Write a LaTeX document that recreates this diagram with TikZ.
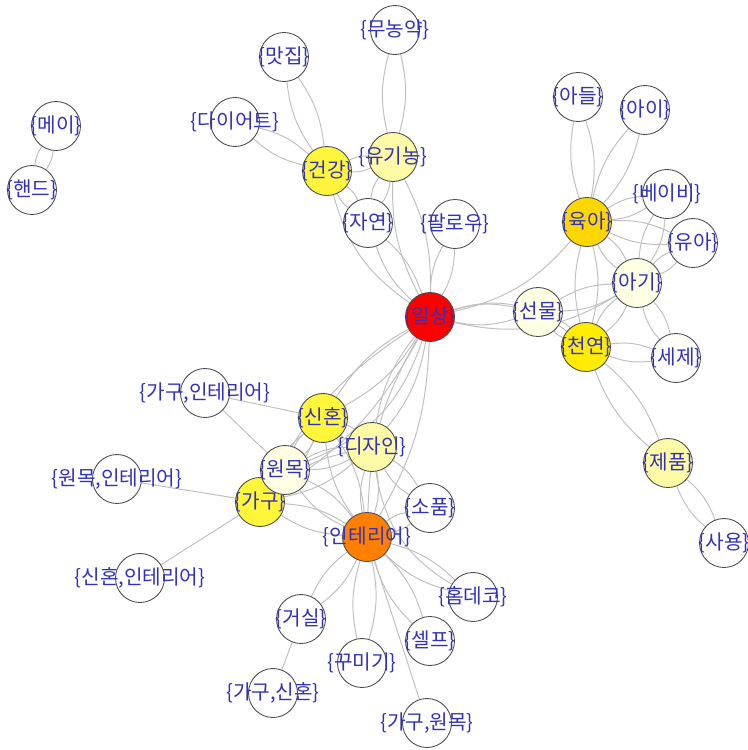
\documentclass[tikz,border=0pt]{standalone}
\usepackage{fontspec}
\newfontfamily\krfont{Noto Sans CJK KR}
\usepackage{xcolor}
\usepackage{tikz}
\usetikzlibrary{backgrounds}

\definecolor{lblblue}{RGB}{50,50,185}
\definecolor{cRed}{RGB}{255,0,0}
\definecolor{cOrange}{RGB}{255,128,0}
\definecolor{cGold}{RGB}{255,215,0}
\definecolor{cYelA}{RGB}{255,236,0}
\definecolor{cYelB}{RGB}{255,246,60}
\definecolor{cYelC}{RGB}{255,250,165}
\definecolor{cPale}{RGB}{255,255,228}

\tikzset{
  vtx/.style={circle,draw=black!70,line width=0.5pt,minimum size=0.98cm,inner sep=0pt,fill=white},
  lbl/.style={text=lblblue,font=\krfont\fontsize{11.5}{12}\selectfont},
  edge/.style={draw=black!25,line width=0.55pt},
}

\begin{document}
\begin{tikzpicture}[x=0.02cm,y=-0.02cm]
  \useasboundingbox (0,0) rectangle (747,750);
  % vertices
  \node[vtx,label={[lbl]center:\{메이\}}] (mei) at (56,126) {};
  \node[vtx,label={[lbl]center:\{핸드\}}] (haend) at (32,190) {};
  \node[vtx,label={[lbl]center:\{맛집\}}] (matjip) at (284,57) {};
  \node[vtx,label={[lbl]center:\{무농약\}}] (munong) at (395,30) {};
  \node[vtx,label={[lbl]center:\{다이어트\}}] (diet) at (235,122) {};
  \node[vtx,fill=cYelB,label={[lbl]center:\{건강\}}] (geongang) at (327,171) {};
  \node[vtx,fill=cYelC,label={[lbl]center:\{유기농\}}] (yugi) at (393,157) {};
  \node[vtx,label={[lbl]center:\{자연\}}] (jayeon) at (368,223) {};
  \node[vtx,label={[lbl]center:\{팔로우\}}] (follow) at (455,224) {};
  \node[vtx,label={[lbl]center:\{아들\}}] (adeul) at (578,97) {};
  \node[vtx,label={[lbl]center:\{아이\}}] (ai) at (645,110) {};
  \node[vtx,label={[lbl]center:\{베이비\}}] (baby) at (667,194) {};
  \node[vtx,fill=cGold,label={[lbl]center:\{육아\}}] (yuga) at (587,222) {};
  \node[vtx,label={[lbl]center:\{유아\}}] (yua) at (693,243) {};
  \node[vtx,fill=cPale,label={[lbl]center:\{아기\}}] (agi) at (637,283) {};
  \node[vtx,fill=cPale,label={[lbl]center:\{선물\}}] (seonmul) at (538,312) {};
  \node[vtx,fill=cRed,label={[lbl]center:\{일상\}}] (ilsang) at (430,317) {};
  \node[vtx,fill=cYelA,label={[lbl]center:\{천연\}}] (cheonyeon) at (586,347) {};
  \node[vtx,label={[lbl]center:\{세제\}}] (seje) at (676,358) {};
  \node[vtx,label={[lbl]center:\{가구,인테리어\}}] (gaguint) at (205,393) {};
  \node[vtx,fill=cYelB,label={[lbl]center:\{신혼\}}] (sinhon) at (323,418) {};
  \node[vtx,fill=cYelC,label={[lbl]center:\{디자인\}}] (dizain) at (372,447) {};
  \node[vtx,label={[lbl]center:\{원목,인테리어\}}] (wonmokint) at (117,479) {};
  \node[vtx,fill=cYelB,label={[lbl]center:\{가구\}}] (gagu) at (260,502) {};
  \node[vtx,fill=cPale,label={[lbl]center:\{원목\}}] (wonmok) at (285,470) {};
  \node[vtx,fill=cYelC,label={[lbl]center:\{제품\}}] (jepum) at (668,463) {};
  \node[vtx,label={[lbl]center:\{소품\}}] (sopum) at (430,508) {};
  \node[vtx,fill=cOrange,label={[lbl]center:\{인테리어\}}] (interior) at (367,537) {};
  \node[vtx,label={[lbl]center:\{사용\}}] (sayong) at (724,543) {};
  \node[vtx,label={[lbl]center:\{신혼,인테리어\}}] (sinhonint) at (140,578) {};
  \node[vtx,label={[lbl]center:\{홈데코\}}] (homedeco) at (473,597) {};
  \node[vtx,label={[lbl]center:\{거실\}}] (geosil) at (301,619) {};
  \node[vtx,label={[lbl]center:\{셀프\}}] (selp) at (430,641) {};
  \node[vtx,label={[lbl]center:\{꾸미기\}}] (kkumigi) at (362,663) {};
  \node[vtx,label={[lbl]center:\{가구,신혼\}}] (gagusinhon) at (273,693) {};
  \node[vtx,label={[lbl]center:\{가구,원목\}}] (gaguwonmok) at (427,723) {};

  % edges
  \begin{scope}[on background layer]
    \foreach \a/\b in {mei/haend,matjip/geongang,diet/geongang,munong/yugi,geongang/yugi,
        geongang/jayeon,yugi/jayeon,jayeon/ilsang,follow/ilsang,yugi/ilsang,
        adeul/yuga,ai/yuga,baby/yuga,yua/yuga,agi/yuga,yuga/cheonyeon,
        cheonyeon/seje,agi/seje,cheonyeon/jepum,jepum/sayong,seonmul/ilsang,
        seonmul/agi,seonmul/cheonyeon,agi/cheonyeon,agi/yua,agi/baby,
        ilsang/sinhon,ilsang/dizain,ilsang/interior,ilsang/gagu,
        sinhon/dizain,sinhon/wonmok,sinhon/gagu,sinhon/interior,wonmok/dizain,
        wonmok/gagu,wonmok/interior,gagu/interior,dizain/interior,dizain/sopum,
        sopum/interior,interior/homedeco,interior/selp,interior/kkumigi,
        interior/geosil,dizain/gagu}
      \draw[edge] (\a) to[bend left=14] (\b) (\a) to[bend right=14] (\b);
    \foreach \a/\b/\c in {ilsang/yuga/-18,ilsang/agi/-22,ilsang/cheonyeon/28,
        geongang/ilsang/-20,ilsang/wonmok/25,dizain/homedeco/-25}
      \draw[edge] (\a) to[bend left=\c] (\b);
    \foreach \a/\b in {gaguint/sinhon,gaguint/wonmok,wonmokint/gagu,
        sinhonint/gagu,gagusinhon/geosil,gaguwonmok/interior}
      \draw[edge] (\a) -- (\b);
  \end{scope}
\end{tikzpicture}
\end{document}
